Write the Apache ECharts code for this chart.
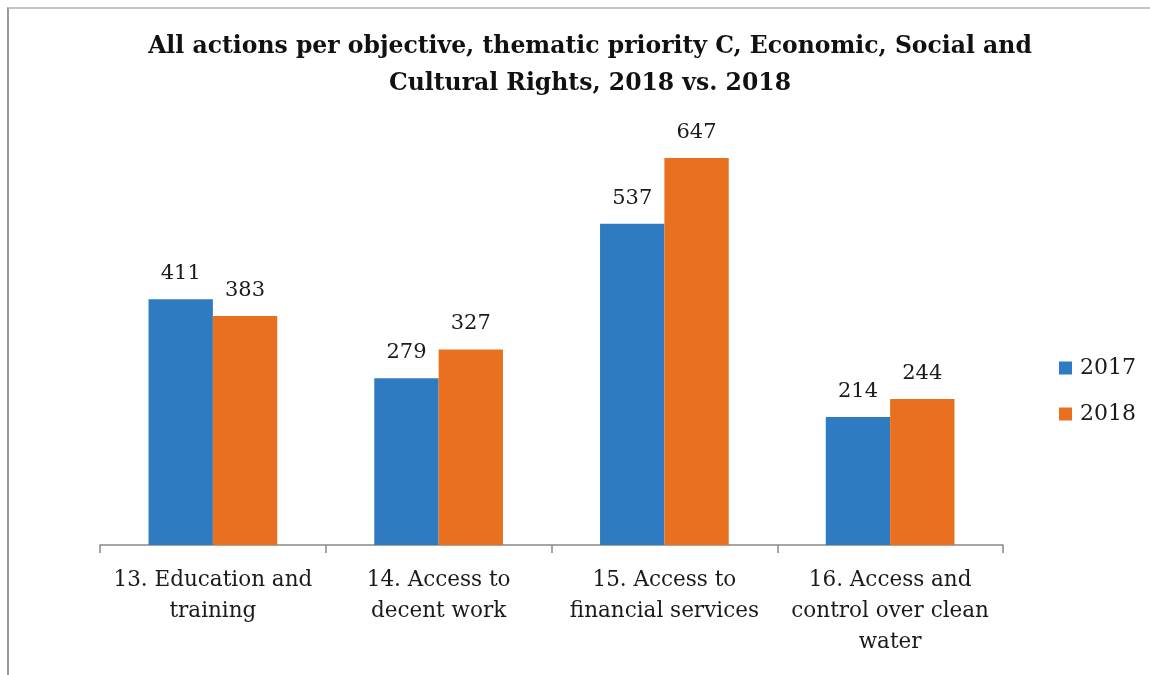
<!DOCTYPE html>
<html>
<head>
<meta charset="utf-8">
<script src="https://cdn.jsdelivr.net/npm/echarts@6/dist/echarts.min.js"></script>
<style>
  html, body { margin: 0; padding: 0; background: #fff; }
  #frame {
    position: absolute; left: 7px; top: 7px; width: 1143px; height: 668px;
    border-top: 2px solid #c4c4c4; border-left: 2px solid #9a9a9a; box-sizing: border-box;
  }
  #chart { position: absolute; left: 0; top: 0; width: 1150px; height: 675px; }
</style>
</head>
<body>
<div id="frame"></div>
<div id="chart"></div>
<script>
const categories = [
  "13. Education and\ntraining",
  "14. Access to\ndecent work",
  "15. Access to\nfinancial services",
  "16. Access and\ncontrol over clean\nwater"
];
const values2017 = [411, 279, 537, 214];
const values2018 = [383, 327, 647, 244];
const seriesNames = ["2017", "2018"];

const fontFamily = "'DejaVu Serif', serif";
const blue = "#2e7bc1";
const orange = "#e8701f";

const chart = echarts.init(document.getElementById("chart"));

function barSeries(name, data, color) {
  return {
    name,
    type: "bar",
    data,
    barWidth: "28.5%",
    barGap: "0%",
    itemStyle: { color },
    label: {
      show: true,
      position: "top",
      distance: 15,
      color: "#1a1a1a",
      fontFamily,
      fontSize: 21
    }
  };
}

chart.setOption({
  animation: false,
  title: {
    text: "All actions per objective, thematic priority C, Economic, Social and\nCultural Rights, 2018 vs. 2018",
    left: 585,
    textAlign: "center",
    top: 23,
    textStyle: {
      fontFamily,
      fontWeight: "bold",
      fontSize: 23.5,
      lineHeight: 37,
      color: "#111"
    }
  },
  legend: {
    orient: "vertical",
    left: 1054,
    top: 352,
    itemWidth: 13,
    itemHeight: 13,
    itemGap: 24,
    icon: "rect",
    textStyle: { fontFamily, fontSize: 22, color: "#1a1a1a", padding: [0, 0, 0, 3] },
    data: seriesNames
  },
  grid: {
    left: 100,
    width: 903,
    top: 126.4,
    height: 418.6,
    containLabel: false
  },
  xAxis: {
    type: "category",
    data: categories,
    axisLine: { lineStyle: { color: "#888", width: 1.5 } },
    axisTick: { show: true, length: 8, lineStyle: { color: "#888", width: 1.5 } },
    axisLabel: {
      interval: 0,
      margin: 20,
      color: "#1a1a1a",
      fontFamily,
      fontSize: 21.5,
      lineHeight: 31
    }
  },
  yAxis: {
    type: "value",
    min: 0,
    max: 700,
    show: false,
    splitLine: { show: false }
  },
  series: [
    barSeries(seriesNames[0], values2017, blue),
    barSeries(seriesNames[1], values2018, orange)
  ]
});
</script>
</body>
</html>
